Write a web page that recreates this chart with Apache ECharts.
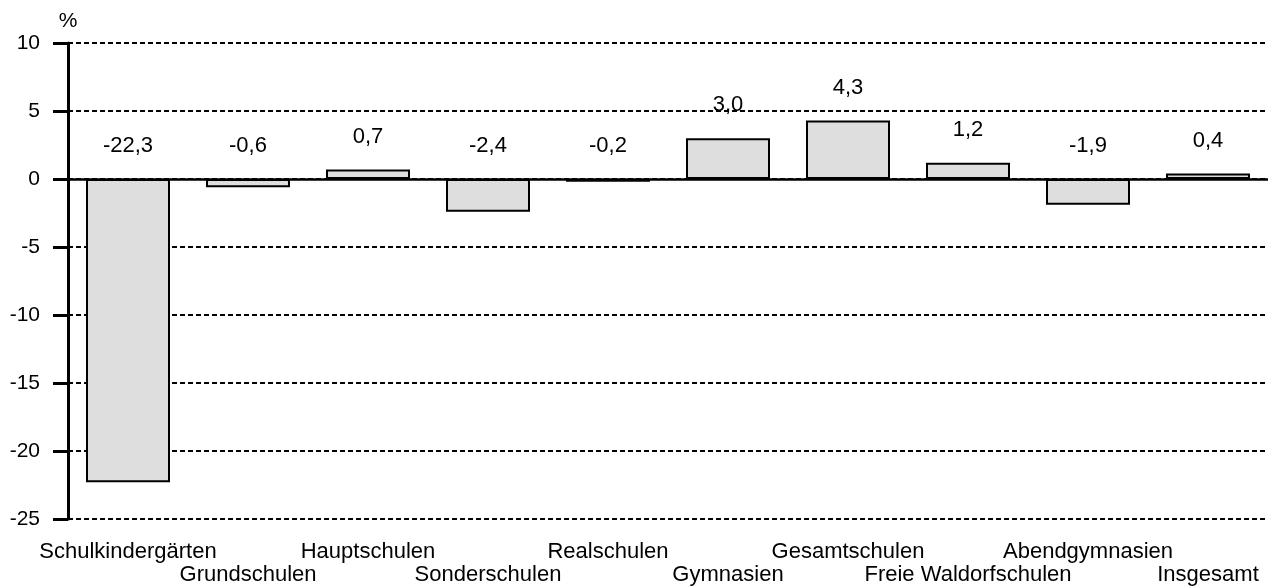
<!DOCTYPE html>
<html>
<head>
<meta charset="utf-8">
<script src="https://cdn.jsdelivr.net/npm/echarts@6/dist/echarts.min.js"></script>
<style>html,body{margin:0;padding:0;background:#fff}#c{width:1278px;height:586px}</style>
</head>
<body>
<div id="c"></div>
<script>
const categories = ['Schulkindergärten','Grundschulen','Hauptschulen','Sonderschulen','Realschulen','Gymnasien','Gesamtschulen','Freie Waldorfschulen','Abendgymnasien','Insgesamt'];
const values = [-22.3, -0.6, 0.7, -2.4, -0.2, 3.0, 4.3, 1.2, -1.9, 0.4];
const yTicks = { min: -25, max: 10, interval: 5 };

const fmt = v => v.toFixed(1).replace('.', ',');
const font = 'Liberation Sans, Arial, sans-serif';

const chart = echarts.init(document.getElementById('c'));
chart.setOption({
  animation: false,
  grid: { left: 68, right: 10, top: 43, bottom: 65 },
  xAxis: {
    type: 'category',
    data: categories,
    axisLine: { show: false, onZero: false },
    axisTick: { show: false },
    axisLabel: {
      interval: 0,
      margin: 21,
      color: '#000',
      fontFamily: font,
      fontSize: 22,
      lineHeight: 23,
      formatter: (v, i) => (i % 2 === 1 ? '\n' + v : v)
    }
  },
  yAxis: {
    type: 'value',
    min: yTicks.min, max: yTicks.max, interval: yTicks.interval,
    name: '%',
    nameLocation: 'end',
    nameGap: 11,
    nameTextStyle: { color: '#000', fontFamily: font, fontSize: 21, align: 'center' },
    axisLine: { show: true, lineStyle: { color: '#000', width: 3 } },
    axisTick: { show: true, length: 15, lineStyle: { color: '#000', width: 3 } },
    axisLabel: { margin: 28, color: '#000', fontFamily: font, fontSize: 21 },
    splitLine: { show: true, lineStyle: { color: '#000', width: 2, type: [5, 3] } }
  },
  series: [
    {
      type: 'bar',
      data: values,
      barWidth: '70%',
      itemStyle: { color: '#dedede', borderColor: '#000', borderWidth: 2 },
      markLine: {
        silent: true,
        symbol: 'none',
        label: { show: false },
        lineStyle: { color: '#000', width: 2.5, type: 'solid' },
        data: [{ yAxis: 0 }]
      }
    },
    {
      type: 'scatter',
      symbolSize: 0,
      itemStyle: { opacity: 1 },
      data: values.map((v, i) => [i, Math.max(v, 0)]),
      label: {
        show: true,
        position: 'top',
        distance: 22,
        color: '#000',
        opacity: 1,
        fontFamily: font,
        fontSize: 22,
        formatter: p => fmt(values[p.dataIndex])
      },
      z: 5
    }
  ]
});
</script>
</body>
</html>
